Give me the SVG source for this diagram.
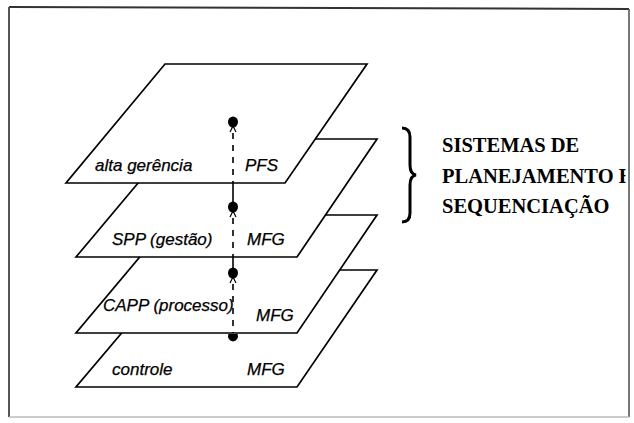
<svg xmlns="http://www.w3.org/2000/svg" width="634" height="423" viewBox="0 0 634 423">
  <style>
    .plane { fill: #ffffff; stroke: #000000; stroke-width: 1.7; stroke-linejoin: miter; }
    .lbl { font-family: "Liberation Sans", Arial, sans-serif; font-style: italic; font-size: 17px; fill: #000000; stroke: #000000; stroke-width: 0.25; }
    .title { font-family: "Liberation Serif", "Times New Roman", serif; font-weight: bold; font-size: 20.5px; fill: #000000; }
    .solid { stroke: #000000; stroke-width: 1.6; fill: none; }
    .dash { stroke: #000000; stroke-width: 1.6; fill: none; stroke-dasharray: 6 6; }
    .dot { fill: #000000; }
    .tip { stroke: #000000; stroke-width: 1.2; fill: none; }
  </style>
  <defs>
    <clipPath id="frameClip">
      <rect x="10" y="9" width="615.5" height="406"/>
    </clipPath>
  </defs>

  <!-- outer frame -->
  <g id="frame">
    <rect x="0" y="0" width="634" height="423" fill="#ffffff"/>
    <line x1="9" y1="7" x2="629" y2="9" stroke="#333333" stroke-width="2"/>
    <line x1="9" y1="7" x2="9" y2="417" stroke="#555555" stroke-width="2"/>
    <line x1="629" y1="9" x2="629" y2="417" stroke="#555555" stroke-width="1.6"/>
    <line x1="9" y1="417" x2="629" y2="417" stroke="#bbbbbb" stroke-width="1.5"/>
  </g>

  <!-- layers, drawn from the bottom up so upper layers hide the lower ones -->
  <g id="layer-controle">
    <polygon class="plane" points="175,270 377,270 297,387 76,387"/>
    <text class="lbl" x="112" y="375">controle</text>
    <text class="lbl" x="247" y="375">MFG</text>
  </g>

  <g id="layer-capp">
    <polygon class="plane" points="175,215 377,215 297,333 76,333"/>
    <text class="lbl" x="103" y="311">CAPP (processo)</text>
    <text class="lbl" x="256" y="321">MFG</text>
  </g>

  <g id="layer-spp">
    <polygon class="plane" points="175,139 377,139 297,257 76,257"/>
    <text class="lbl" x="112" y="245">SPP (gestão)</text>
    <text class="lbl" x="247" y="245">MFG</text>
  </g>

  <g id="layer-alta">
    <polygon class="plane" points="165,64 367,64 285,183 66,183"/>
    <text class="lbl" x="95" y="171">alta gerência</text>
    <text class="lbl" x="245" y="171">PFS</text>
  </g>

  <!-- vertical link between the layers: solid where exposed, dashed where hidden -->
  <g id="connectors">
    <line class="dash" x1="233" y1="133" x2="233" y2="183"/>
    <line class="solid" x1="233" y1="183" x2="233" y2="202"/>
    <line class="dash" x1="233" y1="218" x2="233" y2="257"/>
    <line class="solid" x1="233" y1="257" x2="233" y2="268"/>
    <line class="dash" x1="233" y1="284" x2="233" y2="333"/>

    <ellipse class="dot" cx="233" cy="122" rx="5" ry="5.5"/>
    <path class="tip" d="M230,132 L233,126 L236,132"/>
    <ellipse class="dot" cx="233" cy="207" rx="5" ry="5.5"/>
    <path class="tip" d="M230,217 L233,211 L236,217"/>
    <ellipse class="dot" cx="233" cy="273" rx="5" ry="5.5"/>
    <path class="tip" d="M230,283 L233,277 L236,283"/>
    <!-- lowest dot, its top hidden under the layer above -->
    <path class="dot" d="M228.35,334 A5,5.5 0 1 0 237.65,334 Z"/>
  </g>

  <!-- grouping brace and caption -->
  <g id="caption">
    <path d="M402,128 Q410,128 410,137 L410,165 Q410,174 416,175 Q410,176 410,185 L410,213 Q410,222 402,222" fill="none" stroke="#000000" stroke-width="3"/>
    <g clip-path="url(#frameClip)">
      <text class="title" x="442" y="152">SISTEMAS DE</text>
      <text class="title" x="442" y="183">PLANEJAMENTO E</text>
      <text class="title" x="442" y="213">SEQUENCIAÇÃO</text>
    </g>
  </g>
</svg>
